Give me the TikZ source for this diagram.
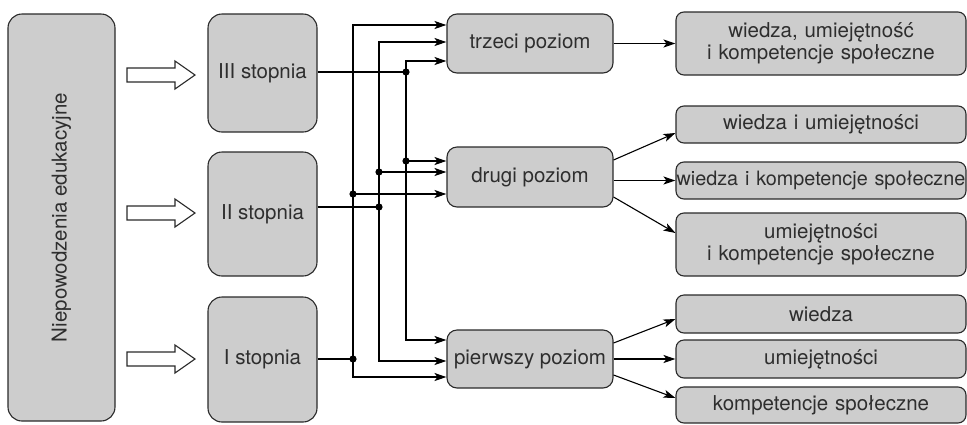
\documentclass[tikz,border=0pt]{standalone}
\usepackage{fontspec}
\setmainfont{TeX Gyre Heros}
\usetikzlibrary{calc,arrows.meta}
\definecolor{boxgray}{HTML}{CDCDCD}
\definecolor{edge}{HTML}{2A2A2A}
\definecolor{txt}{HTML}{2E2E2E}
\begin{document}
\begin{tikzpicture}[x=1pt,y=-1pt,
  base/.style={draw=edge, fill=boxgray, line width=1.1pt, inner sep=0pt, align=center,
    text=txt, font=\fontsize{20.5}{22}\selectfont},
  tall/.style={base, rounded corners=14pt},
  mid/.style={base, rounded corners=10pt},
  outc/.style={base, rounded corners=8pt, minimum width=290pt, text width=290pt},
  conn/.style={draw=black, line width=1.1pt},
  arr/.style={conn, -{Stealth[length=12pt,width=8pt,inset=3pt]}},
  hollow/.style={draw=edge, fill=white, line width=1.1pt, line join=miter},
  dot/.style={fill=black}
]
\useasboundingbox (0,0) rectangle (967,424);

% left column
\node[tall, minimum width=107pt, minimum height=407pt] (nie) at (61.5,217.5)
  {\rotatebox{90}{Niepowodzenia edukacyjne}};

% stage boxes
\node[tall, minimum width=109pt, minimum height=118pt] (s3) at (262.5,73) {III stopnia};
\node[tall, minimum width=109pt, minimum height=124pt] (s2) at (262.5,214) {II stopnia};
\node[tall, minimum width=109pt, minimum height=125pt] (s1) at (262.5,359.5) {I stopnia};

% hollow arrows
\foreach \yy in {75,213,359}{
  \draw[hollow] (127,\yy-7) -- (175,\yy-7) -- (175,\yy-14) -- (195,\yy)
     -- (175,\yy+14) -- (175,\yy+7) -- (127,\yy+7) -- cycle;
}

% level boxes
\node[mid, minimum width=166pt, minimum height=59pt] (p3) at (530,43.5) {trzeci poziom};
\node[mid, minimum width=166pt, minimum height=60pt] (p2) at (530,177) {drugi poziom};
\node[mid, minimum width=166pt, minimum height=58pt] (p1) at (530,359) {pierwszy poziom};

% outcome boxes
\node[outc, minimum height=63pt] (oA) at (821,43.5) {wiedza, umiejętność\\i kompetencje społeczne};
\node[outc, minimum height=37pt] (oB) at (821,124.5) {wiedza i umiejętności};
\node[outc, minimum height=37pt] (oC) at (821,180.5)
  {\fontsize{19.8}{22}\selectfont\makebox[290pt][c]{wiedza i kompetencje społeczne}};
\node[outc, minimum height=63pt] (oD) at (821,244.5) {umiejętności\\i kompetencje społeczne};
\node[outc, minimum height=38pt] (oE) at (821,314) {wiedza};
\node[outc, minimum height=38pt] (oF) at (821,359) {umiejętności};
\node[outc, minimum height=36pt] (oG) at (821,405) {kompetencje społeczne};

% junction coordinates
\coordinate (d3) at (406,72);
\coordinate (d2) at (379,207);
\coordinate (d1) at (353,359);

% targets on level boxes
\coordinate (t3a) at ($(p3.west)+(0,-18.5)$);
\coordinate (t3b) at ($(p3.west)+(0,-1.5)$);
\coordinate (t3c) at ($(p3.west)+(0,17.5)$);
\coordinate (t2a) at ($(p2.west)+(0,-16)$);
\coordinate (t2b) at ($(p2.west)+(0,-5)$);
\coordinate (t2c) at ($(p2.west)+(0,17)$);
\coordinate (t1a) at ($(p1.west)+(0,-19)$);
\coordinate (t1b) at ($(p1.west)+(0,2)$);
\coordinate (t1c) at ($(p1.west)+(0,18)$);

% III stopnia bus
\draw[conn] (d3 -| s3.east) -- (d3);
\draw[arr] (d3) |- (t3c);
\draw[arr] (d3) |- (t1a);
\draw[arr] (t2a -| d3) -- (t2a);
% II stopnia bus
\draw[conn] (d2 -| s2.east) -- (d2);
\draw[arr] (d2) |- (t3b);
\draw[arr] (d2) |- (t1b);
\draw[arr] (t2b -| d2) -- (t2b);
% I stopnia bus
\draw[conn] (d1 -| s1.east) -- (d1);
\draw[arr] (d1) |- (t3a);
\draw[arr] (d1) |- (t1c);
\draw[arr] (t2c -| d1) -- (t2c);

% dots
\fill[dot] (d3) circle (3.6);
\fill[dot] (t2a -| d3) circle (3.6);
\fill[dot] (d2) circle (3.6);
\fill[dot] (t2b -| d2) circle (3.6);
\fill[dot] (d1) circle (3.6);
\fill[dot] (t2c -| d1) circle (3.6);

% outcome arrows
\draw[arr] (p3.east) -- (p3.east -| oA.west);
\draw[arr] ($(p2.east)+(0,-17)$) -- ($(oB.west)+(0,8.5)$);
\draw[arr] (p2.east |- oC.west) -- (oC.west);
\draw[arr] ($(p2.east)+(0,20)$) -- ($(oD.west)+(0,-11.5)$);
\draw[arr] ($(p1.east)+(0,-16)$) -- ($(oE.west)+(0,5)$);
\draw[arr] (p1.east) -- (p1.east -| oF.west);
\draw[arr] ($(p1.east)+(0,16)$) -- ($(oG.west)+(0,-7)$);
\end{tikzpicture}
\end{document}
